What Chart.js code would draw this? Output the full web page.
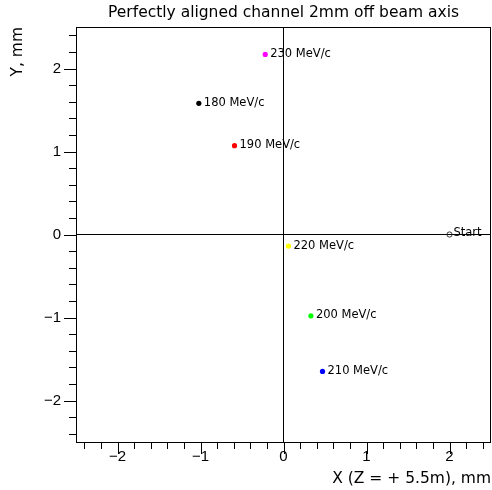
<!DOCTYPE html>
<html>
<head>
<meta charset="utf-8">
<script src="https://cdn.jsdelivr.net/npm/chart.js@4/dist/chart.umd.min.js"></script>
<style>
  html, body { margin: 0; padding: 0; background: #fff; }
  #wrap { width: 492px; height: 490px; }
</style>
</head>
<body>
<div id="wrap"><canvas id="c" width="492" height="490"></canvas></div>
<script>
// Beam spot position at Z = +5.5 m for each momentum setting
const momentumLabels = ['180 MeV/c', '190 MeV/c', '200 MeV/c', '210 MeV/c', '220 MeV/c', '230 MeV/c'];
const xValues = [-1.02, -0.59, 0.33, 0.47, 0.06, -0.22];
const yValues = [1.58, 1.07, -0.98, -1.65, -0.14, 2.17];
const pointColors = ['#000000', '#ff0000', '#00ff00', '#0000ff', '#ffff00', '#ff00ff'];

// Starting position of the beam
const startLabel = 'Start';
const startX = [2.0];
const startY = [0.0];

// Axis setup
const axisMin = -2.5;
const axisMax = 2.5;
const minorStep = 0.2;

const fmt = v => {
  const r = Math.round(v);
  return r < 0 ? '\u2212' + Math.abs(r) : String(r);
};
const isInt = v => Math.abs(v - Math.round(v)) < 1e-6;

// Frame, major/minor tick marks, point labels
const framePlugin = {
  id: 'frame',
  afterDraw(chart) {
    const { ctx, chartArea: a, scales: { x, y } } = chart;
    ctx.save();
    ctx.strokeStyle = '#000';
    ctx.lineWidth = 1;
    ctx.strokeRect(Math.round(a.left) + 0.5, Math.round(a.top) + 0.5,
                   Math.round(a.right - a.left) - 1, Math.round(a.bottom - a.top));
    ctx.beginPath();
    const n = Math.round((axisMax - axisMin) / minorStep);
    for (let i = 0; i <= n; i++) {
      const v = Math.round((-2.4 + i * minorStep) * 10) / 10;
      if (v > axisMax - 1e-9) break;
      const len = isInt(v) ? 12 : 7;
      const px = Math.round(x.getPixelForValue(v)) + 0.5;
      ctx.moveTo(px, a.bottom);
      ctx.lineTo(px, a.bottom + len);
      const py = Math.round(y.getPixelForValue(v)) + 0.5;
      ctx.moveTo(a.left, py);
      ctx.lineTo(a.left - len, py);
    }
    ctx.stroke();
    ctx.restore();
  },
  afterDatasetsDraw(chart) {
    const { ctx, scales: { x, y } } = chart;
    ctx.save();
    ctx.fillStyle = '#000';
    ctx.textAlign = 'left';
    ctx.textBaseline = 'alphabetic';
    ctx.font = '11.5px "DejaVu Sans"';
    momentumLabels.forEach((lab, i) => {
      ctx.fillText(lab, x.getPixelForValue(xValues[i]) + 5, y.getPixelForValue(yValues[i]) + 2.5);
    });
    ctx.fillText(startLabel, x.getPixelForValue(startX[0]) + 4, y.getPixelForValue(startY[0]) + 1.5);
    ctx.restore();
  }
};

const zeroLine = c => (c.tick && Math.abs(c.tick.value) < 1e-9) ? '#000' : 'rgba(0,0,0,0)';

new Chart(document.getElementById('c'), {
  type: 'scatter',
  data: {
    datasets: [
      {
        label: 'momentum',
        data: xValues.map((v, i) => ({ x: v, y: yValues[i] })),
        pointRadius: 2.6,
        pointBorderWidth: 0,
        pointBackgroundColor: pointColors,
        pointBorderColor: pointColors
      },
      {
        label: startLabel,
        data: startX.map((v, i) => ({ x: v, y: startY[i] })),
        pointRadius: 2.6,
        pointBorderWidth: 1,
        pointBackgroundColor: 'rgba(0,0,0,0)',
        pointBorderColor: '#333'
      }
    ]
  },
  options: {
    responsive: false,
    animation: false,
    events: [],
    layout: { autoPadding: false, padding: { top: 0, right: 1, left: 0, bottom: 0 } },
    plugins: {
      legend: { display: false },
      tooltip: { enabled: false },
      title: {
        display: true,
        text: 'Perfectly aligned channel 2mm off beam axis',
        fullSize: false,
        color: '#000',
        font: { family: 'DejaVu Sans', size: 15.5, weight: 'normal' },
        padding: { top: 4, bottom: 4.4 }
      }
    },
    scales: {
      x: {
        type: 'linear',
        min: axisMin,
        max: axisMax,
        afterFit: s => { s.height = 48; s.paddingLeft = 0; s.paddingRight = 0; },
        border: { display: false },
        grid: { drawTicks: false, color: zeroLine, lineWidth: 1 },
        ticks: {
          stepSize: 0.1,
          autoSkip: false,
          maxRotation: 0,
          padding: 6,
          color: '#000',
          font: { family: 'Liberation Sans', size: 15 },
          callback: v => isInt(v) ? fmt(v) : ''
        },
        title: {
          display: true,
          text: 'X (Z = + 5.5m), mm',
          align: 'end',
          color: '#000',
          font: { family: 'DejaVu Sans', size: 15.5 },
          padding: { top: 0, bottom: 2 }
        }
      },
      y: {
        type: 'linear',
        min: axisMin,
        max: axisMax,
        afterFit: s => { s.width = 76; s.paddingTop = 0; s.paddingBottom = 0; },
        border: { display: false },
        grid: { drawTicks: false, color: zeroLine, lineWidth: 1 },
        ticks: {
          stepSize: 0.1,
          autoSkip: false,
          padding: 15,
          color: '#000',
          font: { family: 'Liberation Sans', size: 15 },
          callback: v => isInt(v) ? fmt(v) : ''
        },
        title: {
          display: true,
          text: 'Y, mm',
          align: 'end',
          color: '#000',
          font: { family: 'DejaVu Sans', size: 15.5 },
          padding: { top: 9, bottom: 0 }
        }
      }
    }
  },
  plugins: [framePlugin]
});
</script>
</body>
</html>
